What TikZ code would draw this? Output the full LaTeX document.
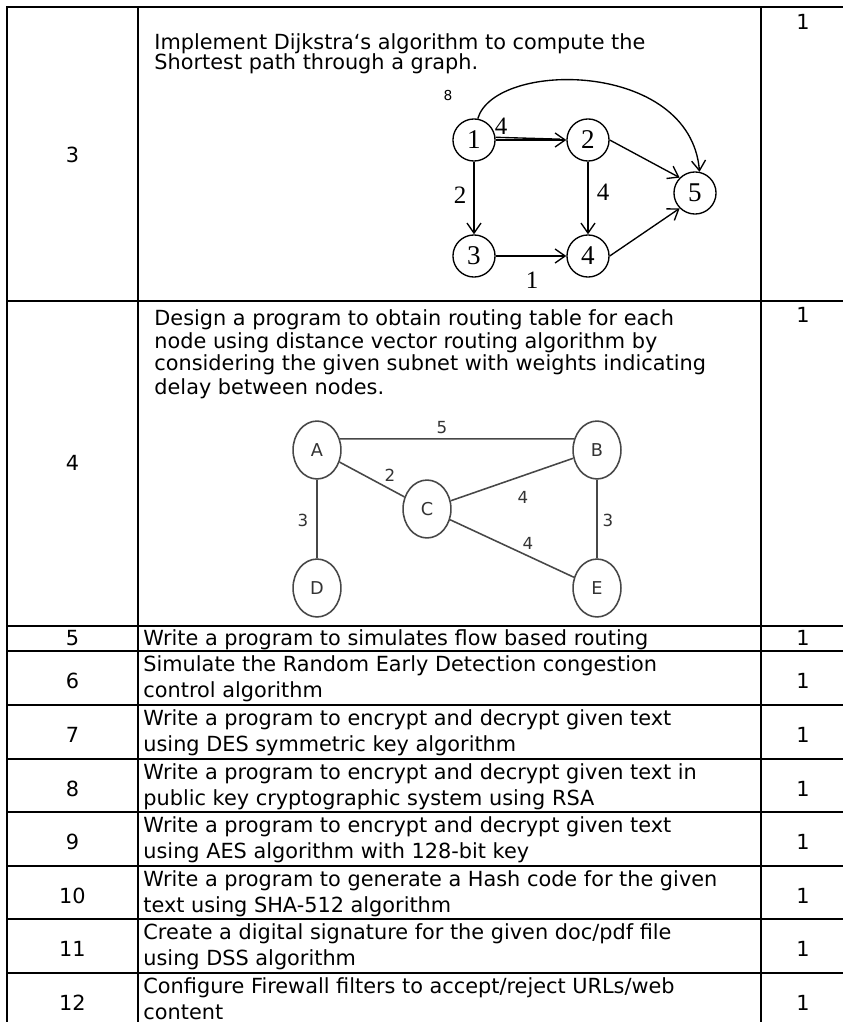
\documentclass[tikz,border=0pt]{standalone}
\usepackage{fontspec}
\setmainfont{DejaVu Sans}
\newfontfamily\timesfont{Liberation Serif}
\usetikzlibrary{arrows.meta,shapes.geometric}
\definecolor{pengray}{gray}{0.28}

\begin{document}
\begin{tikzpicture}[x=0.48pt,y=-0.48pt]
\path[use as bounding box] (0,0) rectangle (842,1022);

\tikzstyle{grid}=[line width=1pt,line cap=rect]
\tikzstyle{cell}=[anchor=base west,inner sep=0pt,font=\fontsize{10}{12}\selectfont]
\tikzstyle{num}=[anchor=base,inner sep=0pt,font=\fontsize{10}{12}\selectfont]
\tikzstyle{vtx}=[draw,circle,minimum size=20.2pt,inner sep=0pt,line width=0.65pt,font=\timesfont\fontsize{13}{15}\selectfont]
\tikzstyle{wt}=[inner sep=0pt,font=\timesfont\fontsize{12}{14}\selectfont]
\tikzstyle{arr}=[line width=0.65pt,-{Straight Barb[length=4.8pt,width=6.7pt]}]
\tikzstyle{ell}=[draw=pengray,ellipse,minimum width=23pt,minimum height=27.8pt,inner sep=0pt,line width=0.75pt,text=black!80,font=\fontsize{8.5}{10}\selectfont]
\tikzstyle{dv}=[inner sep=0pt,text=black!80,font=\fontsize{8}{10}\selectfont]
\tikzstyle{link}=[draw=pengray,line width=0.75pt]

% table rules
\foreach \y in {7,301,626,651,705,759,812,866,919,973}
  \draw[grid] (7,\y) -- (842,\y);
\foreach \x in {7,138,761}
  \draw[grid] (\x,7) -- (\x,1022);

% row 3
\node[num] (no3) at (72.5,163) {3};
\node[num] (mk3) at (803,30) {1};
\node[cell] (la3) at (154,50) {Implement Dijkstra‘s algorithm to compute the};
\node[cell] (lb3) at (154,70) {Shortest path through a graph.};

% shortest path graph
\node[vtx] (n1) at (474,140) {1};
\node[vtx] (n2) at (588,140) {2};
\node[vtx] (n3) at (474,256) {3};
\node[vtx] (n4) at (588,256) {4};
\node[vtx] (n5) at (695,193) {5};

\draw[arr] (n1.east) -- (n2.west);
\draw[line width=0.65pt] ([yshift=1.3pt]n1.east) -- ([xshift=-3pt,yshift=0.4pt]n2.west);
\draw[arr] (n1.south) -- (n3.north);
\draw[arr] (n2.south) -- (n4.north);
\draw[arr] (n3.east) -- (n4.west);
\draw[arr] (n2.east) -- (n5.north west);
\draw[arr] (n4.east) -- (n5.south west);
\draw[arr] (n1.80) .. controls (495,60) and (690,60) .. (n5.78);

\node[wt] (w12) at (501,126) {4};
\node[wt] (w13) at (460,195) {2};
\node[wt] (w24) at (603,192) {4};
\node[wt] (w34) at (532,280) {1};
\node[inner sep=0pt,font=\fontsize{6.6}{8}\selectfont] (w15) at (448,95) {8};

% row 4
\node[num] (no4) at (72.5,470) {4};
\node[num] (mk4) at (803,323) {1};
\node[cell] (la4) at (154,325) {Design a program to obtain routing table for each};
\node[cell] (lb4) at (154,348) {node using distance vector routing algorithm by};
\node[cell] (lc4) at (154,371) {considering the given subnet with weights indicating};
\node[cell] (ld4) at (154,394) {delay between nodes.};

% subnet graph
\node[ell] (A) at (317,450) {A};
\node[ell] (B) at (597,450) {B};
\node[ell] (C) at (427,509) {C};
\node[ell] (D) at (317,588) {D};
\node[ell] (E) at (597,588) {E};

\path[link] (A.26) -- (B.154)
            (A) -- (C)
            (C) -- (B)
            (C) -- (E)
            (A) -- (D)
            (B) -- (E);

\node[dv] (dAB) at (442,428) {5};
\node[dv] (dAC) at (390,475) {2};
\node[dv] (dCB) at (523,497) {4};
\node[dv] (dCE) at (528,543) {4};
\node[dv] (dAD) at (303,520) {3};
\node[dv] (dBE) at (608,520) {3};

% row 5
\node[num] (no5) at (72.5,645) {5};
\node[cell] (la5) at (143,645) {Write a program to simulates flow based routing};
\node[num] (mk5) at (803,645) {1};

% rows 6 to 12
\foreach \n/\t/\la/\lb in {
    6/651/{Simulate the Random Early Detection congestion}/{control algorithm},
    7/705/{Write a program to encrypt and decrypt given text}/{using DES symmetric key algorithm},
    8/759/{Write a program to encrypt and decrypt given text in}/{public key cryptographic system using RSA},
    9/812/{Write a program to encrypt and decrypt given text}/{using AES algorithm with 128-bit key},
    10/866/{Write a program to generate a Hash code for the given}/{text using SHA-512 algorithm},
    11/919/{Create a digital signature for the given doc/pdf file}/{using DSS algorithm},
    12/973/{Configure Firewall filters to accept/reject URLs/web}/{content}}
{
  \node[num] (no\n) at (72.5,\t+37) {\n};
  \node[cell] (la\n) at (143,\t+20.5) {\la};
  \node[cell] (lb\n) at (143,\t+46) {\lb};
  \node[num] (mk\n) at (803,\t+37) {1};
}
\end{tikzpicture}
\end{document}
